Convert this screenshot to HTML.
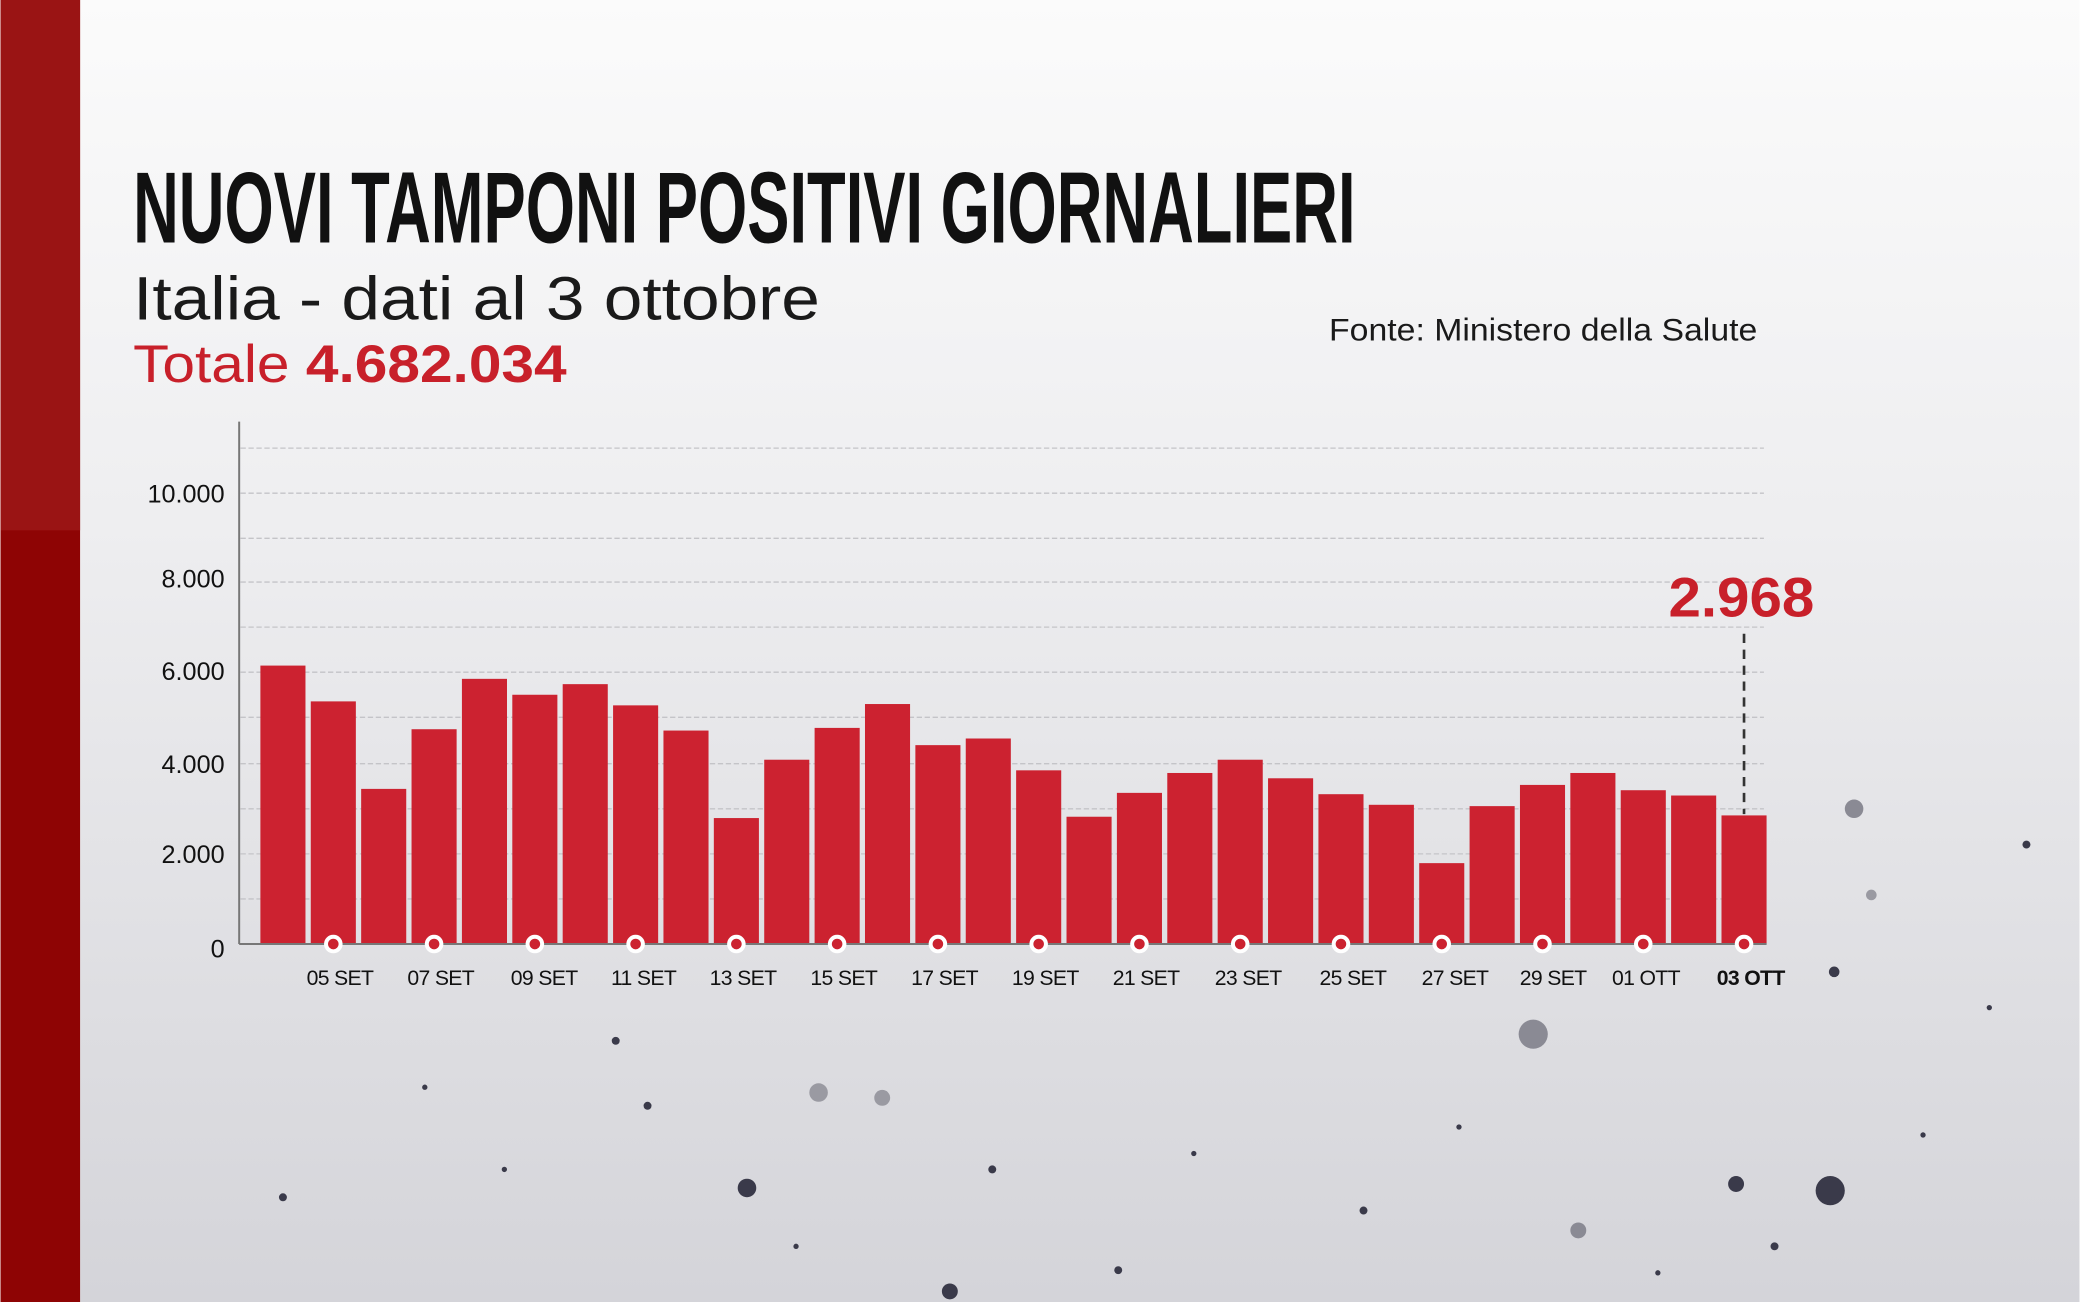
<!DOCTYPE html>
<html><head><meta charset="utf-8"><style>
html,body{margin:0;padding:0;width:2080px;height:1302px;overflow:hidden}
svg{display:block}
</style></head><body>
<svg width="2080" height="1302" viewBox="0 0 1568 982" xmlns="http://www.w3.org/2000/svg" font-family="Liberation Sans, sans-serif">
<defs>
<linearGradient id="bg" x1="0" y1="0" x2="0" y2="1">
<stop offset="0" stop-color="#fbfbfb"/><stop offset="0.4" stop-color="#eeeef0"/><stop offset="1" stop-color="#d4d4d9"/>
</linearGradient>
</defs>
<rect width="1568" height="982" fill="url(#bg)"/>
<rect width="60" height="982" fill="#8e0404"/>
<rect width="60" height="400" fill="#9a1414"/>
<g fill="#3a3a4a">
<circle cx="1398" cy="610" r="7" fill="#8a8a94"/><circle cx="1156" cy="780" r="11" fill="#8a8a94"/>
<circle cx="617" cy="824" r="7" fill="#9a9aa2"/><circle cx="665" cy="828" r="6" fill="#9a9aa2"/>
<circle cx="563" cy="896" r="7"/><circle cx="1380" cy="898" r="11"/><circle cx="1309" cy="893" r="6"/>
<circle cx="716" cy="974" r="6"/><circle cx="1190" cy="928" r="6" fill="#8a8a94"/>
<circle cx="1528" cy="637" r="3"/><circle cx="1383" cy="733" r="4"/><circle cx="1411" cy="675" r="4" fill="#9a9aa2"/>
<circle cx="213" cy="903" r="3"/><circle cx="488" cy="834" r="3"/><circle cx="748" cy="882" r="3"/>
<circle cx="1028" cy="913" r="3"/><circle cx="1338" cy="940" r="3"/><circle cx="843" cy="958" r="3"/>
<circle cx="464" cy="785" r="3"/><circle cx="1450" cy="856" r="2"/><circle cx="1500" cy="760" r="2"/>
<circle cx="320" cy="820" r="2"/><circle cx="380" cy="882" r="2"/><circle cx="900" cy="870" r="2"/>
<circle cx="1100" cy="850" r="2"/><circle cx="1250" cy="960" r="2"/><circle cx="600" cy="940" r="2"/>
</g>
<text x="100" y="183" font-family="Liberation Sans Narrow, Liberation Sans, sans-serif" font-weight="bold" font-size="76" textLength="922" lengthAdjust="spacingAndGlyphs" fill="#111">NUOVI TAMPONI POSITIVI GIORNALIERI</text>
<text x="100" y="241" font-size="46" textLength="518" lengthAdjust="spacingAndGlyphs" fill="#1a1a1a">Italia - dati al 3 ottobre</text>
<text x="100" y="288" font-size="40" fill="#c8202a" textLength="327" lengthAdjust="spacingAndGlyphs">Totale <tspan font-weight="bold">4.682.034</tspan></text>
<text x="1002" y="257" font-size="24" textLength="323" lengthAdjust="spacingAndGlyphs" fill="#1a1a1a">Fonte: Ministero della Salute</text>
<g stroke="#c4c4c8" stroke-width="1" stroke-dasharray="4 2">
<line x1="181" x2="1330" y1="338" y2="338"/><line x1="181" x2="1330" y1="372" y2="372"/>
<line x1="181" x2="1330" y1="406" y2="406"/><line x1="181" x2="1330" y1="439" y2="439"/>
<line x1="181" x2="1330" y1="473" y2="473"/><line x1="181" x2="1330" y1="507" y2="507"/>
<line x1="181" x2="1330" y1="541" y2="541"/><line x1="181" x2="1330" y1="576" y2="576"/>
<line x1="181" x2="1330" y1="610" y2="610"/><line x1="181" x2="1330" y1="644" y2="644"/>
<line x1="181" x2="1330" y1="678" y2="678"/>
</g>
<g font-size="19" fill="#111" text-anchor="end">
<text x="169" y="379">10.000</text><text x="169" y="443">8.000</text><text x="169" y="513">6.000</text>
<text x="169" y="583">4.000</text><text x="169" y="651">2.000</text><text x="169" y="722">0</text>
</g>
<g fill="#cc2230">
<rect x="196" y="502" width="34" height="210"/><rect x="234" y="529" width="34" height="183"/>
<rect x="272" y="595" width="34" height="117"/><rect x="310" y="550" width="34" height="162"/>
<rect x="348" y="512" width="34" height="200"/><rect x="386" y="524" width="34" height="188"/>
<rect x="424" y="516" width="34" height="196"/><rect x="462" y="532" width="34" height="180"/>
<rect x="500" y="551" width="34" height="161"/><rect x="538" y="617" width="34" height="95"/>
<rect x="576" y="573" width="34" height="139"/><rect x="614" y="549" width="34" height="163"/>
<rect x="652" y="531" width="34" height="181"/><rect x="690" y="562" width="34" height="150"/>
<rect x="728" y="557" width="34" height="155"/><rect x="766" y="581" width="34" height="131"/>
<rect x="804" y="616" width="34" height="96"/><rect x="842" y="598" width="34" height="114"/>
<rect x="880" y="583" width="34" height="129"/><rect x="918" y="573" width="34" height="139"/>
<rect x="956" y="587" width="34" height="125"/><rect x="994" y="599" width="34" height="113"/>
<rect x="1032" y="607" width="34" height="105"/><rect x="1070" y="651" width="34" height="61"/>
<rect x="1108" y="608" width="34" height="104"/><rect x="1146" y="592" width="34" height="120"/>
<rect x="1184" y="583" width="34" height="129"/><rect x="1222" y="596" width="34" height="116"/>
<rect x="1260" y="600" width="34" height="112"/><rect x="1298" y="615" width="34" height="97"/>
</g>
<line x1="180" y1="318" x2="180" y2="712" stroke="#777" stroke-width="1.5"/>
<line x1="180" y1="712" x2="1332" y2="712" stroke="#777" stroke-width="1.5"/>
<g fill="#cc2230" stroke="#fff" stroke-width="3">
<circle cx="251" cy="712" r="5.5"/><circle cx="327" cy="712" r="5.5"/><circle cx="403" cy="712" r="5.5"/>
<circle cx="479" cy="712" r="5.5"/><circle cx="555" cy="712" r="5.5"/><circle cx="631" cy="712" r="5.5"/>
<circle cx="707" cy="712" r="5.5"/><circle cx="783" cy="712" r="5.5"/><circle cx="859" cy="712" r="5.5"/>
<circle cx="935" cy="712" r="5.5"/><circle cx="1011" cy="712" r="5.5"/><circle cx="1087" cy="712" r="5.5"/>
<circle cx="1163" cy="712" r="5.5"/><circle cx="1239" cy="712" r="5.5"/><circle cx="1315" cy="712" r="5.5"/>
</g>
<g font-size="16" fill="#111" text-anchor="middle" letter-spacing="-0.5">
<text x="256" y="743">05 SET</text><text x="332" y="743">07 SET</text><text x="410" y="743">09 SET</text>
<text x="485" y="743">11 SET</text><text x="560" y="743">13 SET</text><text x="636" y="743">15 SET</text>
<text x="712" y="743">17 SET</text><text x="788" y="743">19 SET</text><text x="864" y="743">21 SET</text>
<text x="941" y="743">23 SET</text><text x="1020" y="743">25 SET</text><text x="1097" y="743">27 SET</text>
<text x="1171" y="743">29 SET</text><text x="1241" y="743">01 OTT</text>
<text x="1320" y="743" font-weight="bold">03 OTT</text>
</g>
<line x1="1315" y1="478" x2="1315" y2="614" stroke="#333" stroke-width="2" stroke-dasharray="7 5"/>
<text x="1258" y="465" font-size="42" font-weight="bold" fill="#c8202a" textLength="110" lengthAdjust="spacingAndGlyphs">2.968</text>
</svg>
</body></html>
